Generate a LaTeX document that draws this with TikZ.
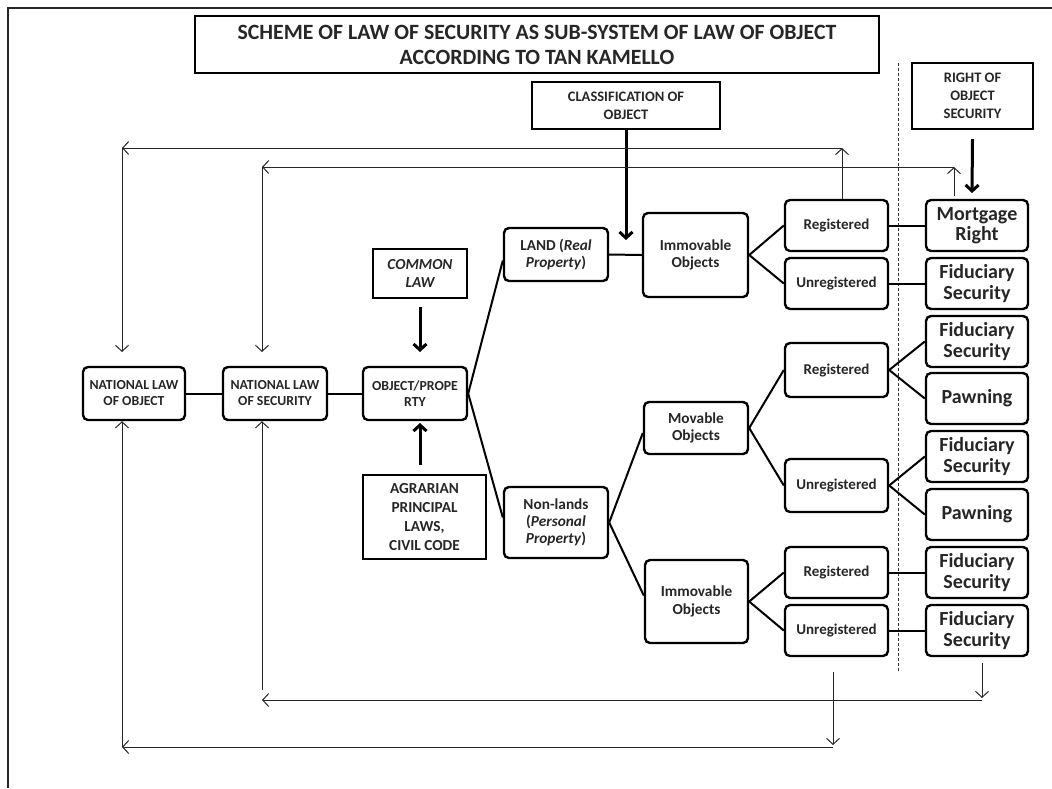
\documentclass[tikz,border=0pt]{standalone}
\usepackage{fontspec}
\setmainfont{Carlito}
\usetikzlibrary{arrows.meta}
\begin{document}
\begin{tikzpicture}[x=1pt,y=-1pt,
  box/.style={draw=black, line width=2.4pt, rounded corners=5pt, align=center, inner sep=0pt, text=black!85},
  sqbox/.style={draw=black, line width=2.4pt, align=center, inner sep=0pt, text=black!85},
  link/.style={line width=2pt},
  fb/.style={line width=1pt, draw=black!85, -{Straight Barb[length=6pt,width=13pt]}},
  heavy/.style={line width=3pt, -{Straight Barb[length=6pt,width=13pt]}},
  ftitle/.style={font=\fontsize{21.8}{25}\selectfont\bfseries},
  fsmall/.style={font=\fontsize{14.5}{18}\selectfont\bfseries},
  fnat/.style={font=\fontsize{13.8}{16}\selectfont\bfseries},
  fmid/.style={font=\fontsize{15.3}{17.3}\selectfont\bfseries},
  fagr/.style={font=\fontsize{15.3}{18.7}\selectfont\bfseries},
  freg/.style={font=\fontsize{15}{17}\selectfont\bfseries},
  fbig/.style={font=\fontsize{20}{20.5}\selectfont\bfseries},
  rbox/.style={box, fbig, minimum width=102pt, minimum height=51pt},
  regbox/.style={box, freg, minimum width=103pt, minimum height=51pt}
]
\useasboundingbox (0,0) rectangle (1052,788);
% outer frame
\draw[line width=2pt, draw=black!85] (8,788) -- (8,8) -- (1052,8);

% header boxes
\node[sqbox, ftitle, minimum width=684pt, minimum height=57pt] (title) at (537,44.5)
  {SCHEME OF LAW OF SECURITY AS SUB-SYSTEM OF LAW OF OBJECT\\ACCORDING TO TAN KAMELLO};
\node[sqbox, fsmall, minimum width=188pt, minimum height=47pt] (cls) at (626,105.5)
  {CLASSIFICATION OF\\OBJECT};
\node[sqbox, fsmall, minimum width=121pt, minimum height=66pt] (ros) at (972.5,96)
  {RIGHT OF\\OBJECT\\SECURITY};

% left chain
\node[box, fnat, minimum width=102pt, minimum height=53pt] (nlo) at (134,393.5) {NATIONAL LAW\\OF OBJECT};
\node[box, fnat, minimum width=104pt, minimum height=53pt] (nls) at (275,393.5) {NATIONAL LAW\\OF SECURITY};
\node[box, fnat, minimum width=104pt, minimum height=53pt] (obj) at (415,393.5) {OBJECT/PROPE\\RTY};
\node[sqbox, fmid, minimum width=94pt, minimum height=49pt] (cl) at (420,273.5) {\itshape COMMON\\\itshape LAW};
\node[sqbox, fagr, minimum width=123pt, minimum height=84pt] (agr) at (424.5,517) {AGRARIAN\\PRINCIPAL\\LAWS,\\CIVIL CODE};

% land / non-lands
\node[box, fmid, minimum width=104pt, minimum height=53pt] (land) at (556,254.5) {LAND (\textit{Real}\\\textit{Property})};
\node[box, fmid, minimum width=104pt, minimum height=71pt] (nonl) at (556,522.5) {Non-lands\\(\textit{Personal}\\\textit{Property})};

% object kinds
\node[box, fmid, minimum width=105pt, minimum height=84pt] (imm1) at (695.5,255) {Immovable\\Objects};
\node[box, fmid, minimum width=104pt, minimum height=52pt] (mov) at (696,428) {Movable\\Objects};
\node[box, fmid, minimum width=103pt, minimum height=83pt] (imm2) at (696.5,601.5) {Immovable\\Objects};

% registration
\node[regbox] (reg1) at (836.5,225.5) {Registered};
\node[regbox] (unr1) at (836.5,283.5) {Unregistered};
\node[regbox, minimum height=54pt] (reg2) at (836.5,370) {Registered};
\node[regbox, minimum height=53pt] (unr2) at (836.5,485.5) {Unregistered};
\node[regbox] (reg3) at (836.5,572.5) {Registered};
\node[regbox] (unr3) at (836.5,630.5) {Unregistered};

% rights
\node[rbox] (mort) at (977,225.5) {Mortgage\\Right};
\node[rbox] (fid1) at (977,283.5) {Fiduciary\\Security};
\node[rbox] (fid2) at (977,341.5) {Fiduciary\\Security};
\node[rbox] (pawn1) at (977,398.5) {Pawning};
\node[rbox] (fid3) at (977,456.5) {Fiduciary\\Security};
\node[rbox] (pawn2) at (977,514.5) {Pawning};
\node[rbox] (fid4) at (977,572.5) {Fiduciary\\Security};
\node[rbox] (fid5) at (977,630.5) {Fiduciary\\Security};

% dashed divider
\coordinate (dtop) at (898,63);
\coordinate (dbot) at (898,672);
\draw[line width=0.8pt, draw=black!80, dash pattern=on 3pt off 2pt] (dtop) -- (dbot);

% links
\draw[link] (nlo.east) -- (nls.west);
\draw[link] (nls.east) -- (obj.west);
\draw[link] (obj.east) -- ([yshift=-6pt]land.west);
\draw[link] (obj.east) -- ([yshift=5pt]nonl.west);
\draw[link] (land.east) -- (imm1.west);
\draw[link] (imm1.east) -- (reg1.west);
\draw[link] (imm1.east) -- (unr1.west);
\draw[link] (reg1.east) -- (mort.west);
\draw[link] (unr1.east) -- (fid1.west);
\draw[link] (nonl.east) -- ([yshift=-5pt]mov.west);
\draw[link] (nonl.east) -- ([yshift=6pt]imm2.west);
\draw[link] (mov.east) -- (reg2.west);
\draw[link] (mov.east) -- (unr2.west);
\draw[link] (reg2.east) -- (fid2.west);
\draw[link] (reg2.east) -- (pawn1.west);
\draw[link] (unr2.east) -- (fid3.west);
\draw[link] (unr2.east) -- (pawn2.west);
\draw[link] (imm2.east) -- (reg3.west);
\draw[link] (imm2.east) -- (unr3.west);
\draw[link] (reg3.east) -- (fid4.west);
\draw[link] (unr3.east) -- (fid5.west);

% heavy arrows
\coordinate (clsend) at (626,240);
\draw[heavy] (cls.south) -- (clsend);
\coordinate (rosend) at (972,193);
\draw[heavy] ([yshift=-9pt]ros.south) -- (rosend);
\coordinate (clstart) at (420,307);
\coordinate (clend) at (420,352);
\draw[heavy] (clstart) -- (clend);
\coordinate (agstart) at (420,465);
\coordinate (agend) at (420,423);
\draw[heavy] (agstart) -- (agend);

% feedback arrows, top
\coordinate (u1) at (842,148);
\coordinate (l1) at (122,148);
\coordinate (d1) at (122,352);
\draw[fb] (reg1.north -| u1) -- (u1);
\draw[fb] (u1) -- (l1);
\draw[fb] (l1) -- (d1);
\coordinate (s2) at (954,196);
\coordinate (u2) at (954,167);
\coordinate (l2) at (262,167);
\coordinate (d2) at (262,352);
\draw[fb] (s2) -- (u2);
\draw[fb] (u2) -- (l2);
\draw[fb] (l2) -- (d2);

% feedback arrows, bottom
\coordinate (b2s) at (982,663);
\coordinate (b2e) at (982,698);
\coordinate (b2r) at (982,700);
\coordinate (b2l) at (262,700);
\coordinate (b2u) at (262,690);
\draw[fb] (b2s) -- (b2e);
\draw[fb] (b2r) -- (b2l);
\draw[fb] (b2u) -- (b2u |- nls.south);
\coordinate (b1s) at (833,672);
\coordinate (b1e) at (833,745);
\coordinate (b1r) at (833,747);
\coordinate (b1l) at (122,747);
\draw[fb] (b1s) -- (b1e);
\draw[fb] (b1r) -- (b1l);
\draw[fb] (b1l) -- (b1l |- nlo.south);
\end{tikzpicture}
\end{document}
